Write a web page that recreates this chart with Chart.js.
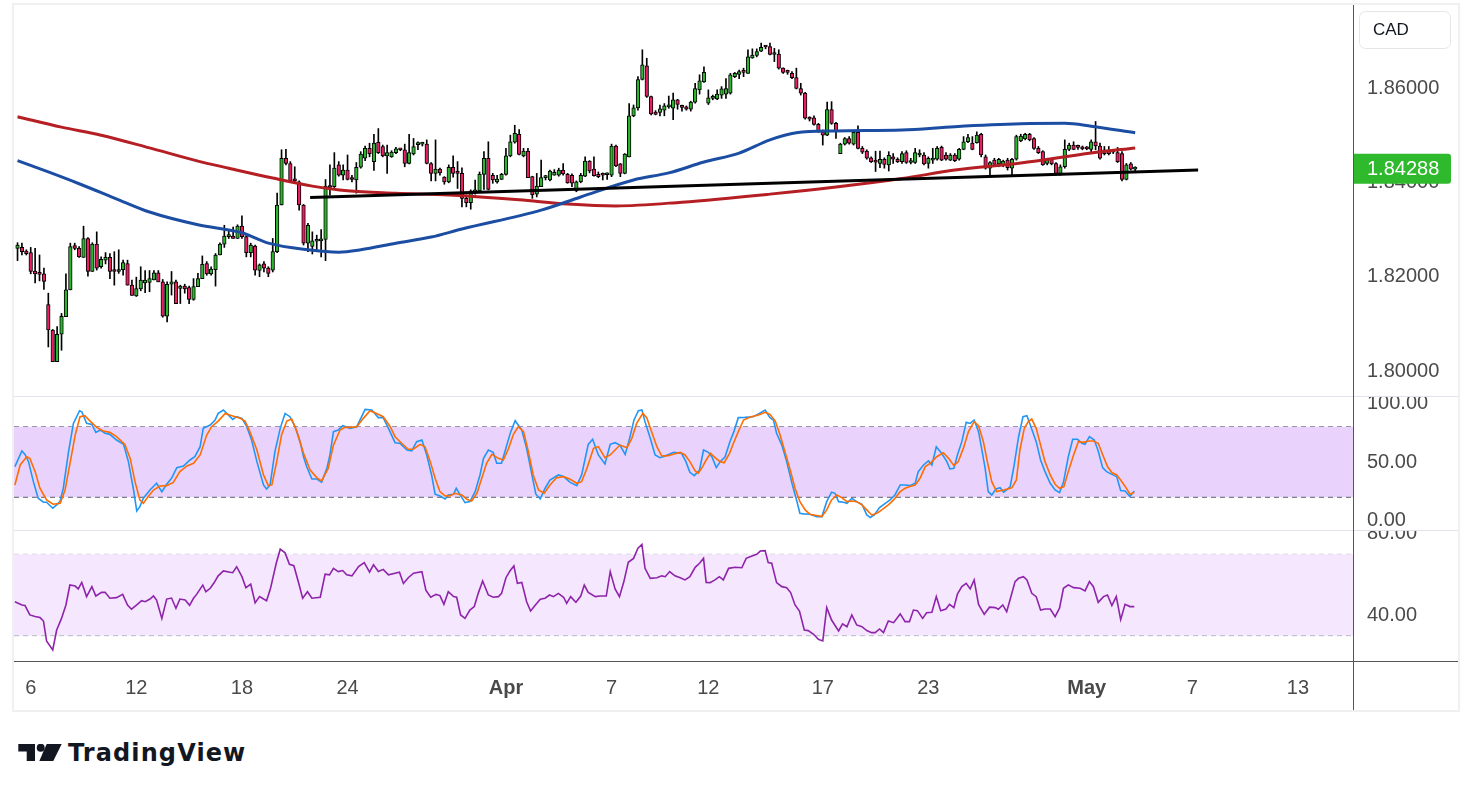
<!DOCTYPE html>
<html>
<head>
<meta charset="utf-8">
<title>GBP/CAD 4H</title>
<script src="https://cdn.jsdelivr.net/npm/chart.js@4.4.1/dist/chart.umd.min.js"></script>
<style>
  html, body { margin: 0; padding: 0; background: #fff; }
  body { width: 1473px; height: 800px; position: relative; overflow: hidden; }
  .frame { position: absolute; left: 12px; top: 3px; width: 1448px; height: 709px; border: 2px solid #f0f0f0; box-sizing: border-box; }
  canvas { position: absolute; left: 14px; }
  #price { top: 5px; }
  #stoch { top: 396px; }
  #rsi { top: 530px; }
  .rule { position: absolute; }
  .brand-icon { position: absolute; left: 17px; top: 744px; }
  .brand-text { position: absolute; left: 68px; top: 741px; font: 700 24px/24px "DejaVu Sans", sans-serif; letter-spacing: 1.1px; color: #131722; white-space: nowrap; }
</style>
</head>
<body>
<div class="frame"></div>
<canvas id="price" width="1444" height="391"></canvas>
<canvas id="stoch" width="1444" height="134"></canvas>
<canvas id="rsi" width="1444" height="180"></canvas>
<div class="rule" style="left:14px;top:396px;width:1444px;height:1px;background:#e0e3eb"></div>
<div class="rule" style="left:14px;top:530px;width:1444px;height:1px;background:#e0e3eb"></div>
<div class="rule" style="left:1353px;top:5px;width:1px;height:705px;background:#555"></div>
<div class="rule" style="left:14px;top:661px;width:1444px;height:1px;background:#555"></div>
<svg class="brand-icon" width="46" height="18" viewBox="0 0 46 18">
  <path d="M1.3 0H18V17H9.7V7.4H1.3Z" fill="#131722"/>
  <circle cx="23.7" cy="3.7" r="4" fill="#131722"/>
  <path d="M29.7 0H44.7L36.3 17H22.3Z" fill="#131722"/>
</svg>
<div class="brand-text">TradingView</div>
<script>
// 4h candles, index 0 = first bar on screen
const opens = [
  1.8260,1.8262,1.8254,1.8251,1.8212,1.8206,1.8206,1.8141,1.8087,1.8020,
  1.8078,1.8115,1.8172,1.8266,1.8260,1.8241,1.8281,1.8211,1.8269,1.8221,
  1.8235,1.8241,1.8212,1.8211,1.8215,1.8228,1.8182,1.8159,1.8174,1.8187,
  1.8188,1.8193,1.8208,1.8189,1.8116,1.8184,1.8189,1.8175,1.8180,1.8177,
  1.8152,1.8179,1.8196,1.8228,1.8206,1.8215,1.8246,1.8269,1.8285,1.8286,
  1.8281,1.8307,1.8285,1.8251,1.8265,1.8213,1.8227,1.8218,1.8214,1.8253,
  1.8352,1.8451,1.8440,1.8404,1.8401,1.8352,1.8271,1.8264,1.8275,1.8276,
  1.8279,1.8392,1.8391,1.8437,1.8415,1.8426,1.8407,1.8405,1.8432,1.8451,
  1.8472,1.8444,1.8485,1.8476,1.8456,1.8454,1.8463,1.8470,1.8469,1.8440,
  1.8460,1.8480,1.8481,1.8481,1.8440,1.8419,1.8428,1.8411,1.8401,1.8432,
  1.8420,1.8419,1.8366,1.8357,1.8377,1.8382,1.8417,1.8451,1.8415,1.8401,
  1.8406,1.8417,1.8456,1.8485,1.8502,1.8456,1.8466,1.8412,1.8375,1.8391,
  1.8410,1.8405,1.8415,1.8415,1.8426,1.8417,1.8415,1.8382,1.8401,1.8413,
  1.8445,1.8428,1.8417,1.8416,1.8416,1.8415,1.8477,1.8439,1.8419,1.8454,
  1.8541,1.8558,1.8618,1.8647,1.8582,1.8549,1.8548,1.8553,1.8560,1.8557,
  1.8575,1.8560,1.8560,1.8555,1.8570,1.8596,1.8613,1.8568,1.8578,1.8577,
  1.8585,1.8587,1.8589,1.8624,1.8629,1.8635,1.8631,1.8664,1.8669,1.8678,
  1.8688,1.8688,1.8671,1.8672,1.8642,1.8635,1.8631,1.8622,1.8599,1.8589,
  1.8536,1.8537,1.8523,1.8507,1.8500,1.8554,1.8525,1.8461,1.8481,1.8493,
  1.8481,1.8506,1.8472,1.8466,1.8452,1.8444,1.8440,1.8449,1.8437,1.8454,
  1.8449,1.8444,1.8463,1.8442,1.8442,1.8458,1.8458,1.8440,1.8447,1.8449,
  1.8474,1.8458,1.8447,1.8458,1.8449,1.8470,1.8486,1.8483,1.8484,1.8502,
  1.8454,1.8430,1.8447,1.8439,1.8437,1.8447,1.8430,1.8449,1.8488,1.8492,
  1.8502,1.8493,1.8472,1.8465,1.8440,1.8449,1.8440,1.8419,1.8433,1.8470,
  1.8479,1.8476,1.8472,1.8472,1.8470,1.8486,1.8477,1.8461,1.8467,1.8465,
  1.8463,1.8461,1.8406,1.8439,1.8428
];
const highs = [
  1.8272,1.8271,1.8257,1.8262,1.8260,1.8246,1.8218,1.8165,1.8088,1.8094,
  1.8122,1.8206,1.8271,1.8271,1.8264,1.8307,1.8283,1.8272,1.8295,1.8242,
  1.8251,1.8249,1.8253,1.8257,1.8235,1.8235,1.8193,1.8199,1.8221,1.8213,
  1.8213,1.8213,1.8213,1.8194,1.8189,1.8211,1.8193,1.8182,1.8184,1.8180,
  1.8196,1.8207,1.8244,1.8232,1.8221,1.8249,1.8272,1.8309,1.8298,1.8305,
  1.8310,1.8329,1.8288,1.8271,1.8267,1.8227,1.8232,1.8221,1.8281,1.8377,
  1.8469,1.8470,1.8444,1.8433,1.8403,1.8353,1.8313,1.8295,1.8288,1.8300,
  1.8406,1.8437,1.8463,1.8444,1.8437,1.8458,1.8415,1.8442,1.8465,1.8477,
  1.8483,1.8502,1.8514,1.8479,1.8479,1.8467,1.8474,1.8471,1.8481,1.8502,
  1.8493,1.8486,1.8485,1.8490,1.8442,1.8490,1.8430,1.8412,1.8437,1.8456,
  1.8444,1.8431,1.8373,1.8384,1.8405,1.8422,1.8465,1.8486,1.8419,1.8415,
  1.8419,1.8472,1.8500,1.8521,1.8512,1.8472,1.8472,1.8413,1.8419,1.8447,
  1.8415,1.8426,1.8427,1.8430,1.8440,1.8419,1.8418,1.8403,1.8419,1.8454,
  1.8446,1.8454,1.8422,1.8420,1.8420,1.8481,1.8479,1.8440,1.8461,1.8567,
  1.8564,1.8624,1.8681,1.8663,1.8583,1.8552,1.8564,1.8567,1.8583,1.8589,
  1.8576,1.8564,1.8562,1.8572,1.8610,1.8628,1.8645,1.8596,1.8585,1.8596,
  1.8603,1.8620,1.8631,1.8633,1.8638,1.8642,1.8681,1.8683,1.8683,1.8695,
  1.8690,1.8695,1.8684,1.8681,1.8643,1.8638,1.8635,1.8642,1.8610,1.8591,
  1.8539,1.8541,1.8525,1.8511,1.8570,1.8571,1.8527,1.8483,1.8495,1.8497,
  1.8509,1.8520,1.8476,1.8469,1.8454,1.8466,1.8466,1.8452,1.8465,1.8461,
  1.8452,1.8465,1.8467,1.8451,1.8472,1.8469,1.8463,1.8454,1.8472,1.8476,
  1.8477,1.8463,1.8461,1.8461,1.8472,1.8497,1.8502,1.8497,1.8507,1.8504,
  1.8458,1.8444,1.8451,1.8451,1.8447,1.8451,1.8451,1.8500,1.8502,1.8504,
  1.8504,1.8495,1.8476,1.8467,1.8451,1.8451,1.8442,1.8437,1.8490,1.8483,
  1.8486,1.8479,1.8477,1.8476,1.8490,1.8529,1.8483,1.8476,1.8476,1.8470,
  1.8474,1.8465,1.8440,1.8442,1.8433
];
const lows = [
  1.8234,1.8246,1.8246,1.8206,1.8187,1.8191,1.8173,1.8051,1.8020,1.8020,
  1.8044,1.8115,1.8172,1.8257,1.8241,1.8241,1.8201,1.8211,1.8214,1.8218,
  1.8227,1.8196,1.8182,1.8207,1.8203,1.8182,1.8160,1.8158,1.8170,1.8166,
  1.8168,1.8193,1.8189,1.8114,1.8104,1.8161,1.8143,1.8143,1.8165,1.8143,
  1.8150,1.8179,1.8196,1.8203,1.8203,1.8180,1.8246,1.8262,1.8281,1.8281,
  1.8281,1.8281,1.8242,1.8242,1.8203,1.8200,1.8210,1.8200,1.8210,1.8251,
  1.8352,1.8437,1.8401,1.8401,1.8341,1.8267,1.8253,1.8248,1.8256,1.8242,
  1.8234,1.8373,1.8389,1.8413,1.8405,1.8405,1.8401,1.8377,1.8430,1.8446,
  1.8454,1.8425,1.8461,1.8454,1.8419,1.8453,1.8461,1.8467,1.8433,1.8439,
  1.8458,1.8469,1.8477,1.8439,1.8403,1.8403,1.8415,1.8396,1.8399,1.8411,
  1.8387,1.8348,1.8348,1.8343,1.8375,1.8380,1.8385,1.8384,1.8398,1.8398,
  1.8406,1.8415,1.8454,1.8483,1.8458,1.8454,1.8410,1.8366,1.8369,1.8391,
  1.8405,1.8403,1.8415,1.8413,1.8415,1.8398,1.8391,1.8380,1.8399,1.8412,
  1.8420,1.8413,1.8410,1.8405,1.8406,1.8412,1.8433,1.8412,1.8418,1.8454,
  1.8539,1.8553,1.8617,1.8580,1.8543,1.8543,1.8541,1.8541,1.8557,1.8533,
  1.8555,1.8551,1.8553,1.8551,1.8568,1.8587,1.8612,1.8565,1.8575,1.8575,
  1.8578,1.8578,1.8587,1.8622,1.8620,1.8624,1.8631,1.8663,1.8666,1.8677,
  1.8683,1.8670,1.8656,1.8640,1.8631,1.8629,1.8620,1.8598,1.8585,1.8534,
  1.8530,1.8521,1.8506,1.8479,1.8499,1.8523,1.8493,1.8461,1.8479,1.8481,
  1.8479,1.8471,1.8461,1.8449,1.8442,1.8423,1.8431,1.8430,1.8424,1.8440,
  1.8442,1.8440,1.8440,1.8439,1.8440,1.8454,1.8437,1.8430,1.8440,1.8447,
  1.8446,1.8447,1.8446,1.8444,1.8447,1.8469,1.8484,1.8469,1.8483,1.8454,
  1.8428,1.8415,1.8437,1.8433,1.8433,1.8426,1.8415,1.8447,1.8486,1.8490,
  1.8488,1.8470,1.8461,1.8436,1.8437,1.8437,1.8415,1.8415,1.8430,1.8467,
  1.8469,1.8470,1.8469,1.8469,1.8465,1.8469,1.8449,1.8458,1.8458,1.8461,
  1.8442,1.8403,1.8405,1.8426,1.8423
];
const closes = [
  1.8267,1.8253,1.8249,1.8211,1.8206,1.8205,1.8190,1.8087,1.8020,1.8078,
  1.8116,1.8172,1.8264,1.8260,1.8242,1.8281,1.8211,1.8269,1.8218,1.8237,
  1.8241,1.8211,1.8211,1.8215,1.8230,1.8182,1.8160,1.8175,1.8193,1.8193,
  1.8196,1.8208,1.8189,1.8116,1.8184,1.8189,1.8143,1.8180,1.8174,1.8152,
  1.8179,1.8196,1.8226,1.8206,1.8216,1.8246,1.8269,1.8286,1.8286,1.8281,
  1.8307,1.8285,1.8251,1.8267,1.8214,1.8225,1.8218,1.8207,1.8253,1.8352,
  1.8451,1.8440,1.8403,1.8403,1.8352,1.8271,1.8309,1.8276,1.8276,1.8277,
  1.8392,1.8389,1.8430,1.8415,1.8426,1.8406,1.8406,1.8432,1.8460,1.8472,
  1.8461,1.8483,1.8463,1.8456,1.8463,1.8464,1.8471,1.8469,1.8440,1.8463,
  1.8476,1.8482,1.8482,1.8440,1.8419,1.8428,1.8420,1.8401,1.8432,1.8419,
  1.8419,1.8366,1.8357,1.8382,1.8384,1.8417,1.8451,1.8385,1.8405,1.8407,
  1.8417,1.8456,1.8486,1.8504,1.8459,1.8466,1.8410,1.8374,1.8392,1.8410,
  1.8411,1.8424,1.8421,1.8426,1.8418,1.8399,1.8398,1.8401,1.8415,1.8445,
  1.8424,1.8414,1.8412,1.8415,1.8417,1.8477,1.8435,1.8419,1.8460,1.8541,
  1.8558,1.8618,1.8649,1.8582,1.8545,1.8544,1.8556,1.8562,1.8561,1.8575,
  1.8565,1.8559,1.8555,1.8570,1.8599,1.8615,1.8633,1.8579,1.8582,1.8587,
  1.8598,1.8599,1.8628,1.8631,1.8635,1.8633,1.8666,1.8670,1.8677,1.8686,
  1.8687,1.8671,1.8672,1.8642,1.8633,1.8633,1.8622,1.8599,1.8589,1.8536,
  1.8534,1.8523,1.8507,1.8500,1.8554,1.8525,1.8509,1.8481,1.8493,1.8483,
  1.8506,1.8472,1.8464,1.8451,1.8444,1.8443,1.8449,1.8438,1.8457,1.8449,
  1.8444,1.8461,1.8442,1.8443,1.8463,1.8459,1.8439,1.8451,1.8449,1.8472,
  1.8447,1.8449,1.8458,1.8446,1.8470,1.8486,1.8495,1.8470,1.8500,1.8458,
  1.8430,1.8442,1.8438,1.8449,1.8445,1.8431,1.8449,1.8497,1.8498,1.8502,
  1.8490,1.8472,1.8463,1.8437,1.8449,1.8439,1.8419,1.8433,1.8470,1.8479,
  1.8470,1.8474,1.8471,1.8471,1.8486,1.8477,1.8451,1.8469,1.8461,1.8464,
  1.8444,1.8406,1.8437,1.8428,1.84288
];

// moving averages: [bar index, price]
const maBlue = [
  [0,1.8446],[7,1.8422],[14,1.8397],[23,1.8363],[30,1.8337],[41,1.8310],[51,1.8293],
  [57,1.8271],[66,1.8257],[73,1.8252],[78,1.8257],[86,1.8271],[94,1.8284],[101,1.8301],
  [119,1.8341],[128,1.8369],[140,1.8405],[148,1.8420],[156,1.8443],[164,1.8462],
  [171,1.8490],[177,1.8505],[186,1.8509],[201,1.8511],[213,1.8518],[228,1.8524],
  [238,1.8525],[244,1.8519],[254,1.8505]
];
const maRed = [
  [0,1.8539],[10,1.8517],[19,1.8500],[30,1.8473],[41,1.8445],[48,1.8430],[58,1.8409],
  [67,1.8392],[75,1.8382],[86,1.8377],[98,1.8373],[114,1.8363],[125,1.8354],[136,1.8350],
  [151,1.8358],[171,1.8375],[186,1.8390],[201,1.8408],[213,1.8426],[228,1.8441],
  [244,1.8462],[254,1.8473]
];
const trendLine = [[66.5,1.8368],[268.3,1.8426]];

// stochastic %K / %D and RSI: [bar index, value]
const stochK = [
  [-0.6,46.1],[1.0,59.4],[1.7,56.5],[2.5,50.3],[3.6,33.3],[4.7,19.2],[5.9,15.8],[6.6,15.8],[8.0,10.7],[8.9,13.5],
  [9.7,16.9],[10.4,27.7],[11.6,58.8],[12.7,82.8],[14.1,93.6],[14.6,92.7],[15.7,82.8],[16.9,82.0],[17.8,75.2],[18.8,77.2],
  [19.9,74.4],[21.0,73.5],[22.5,68.7],[24.1,65.0],[25.2,50.3],[26.3,27.7],[27.1,8.4],[27.8,12.1],[28.6,19.2],[30.1,26.2],
  [31.6,31.9],[32.8,24.8],[33.9,31.1],[35.0,36.2],[36.2,45.2],[37.7,46.6],[39.2,51.7],[40.3,54.5],[41.5,63.0],[42.2,78.6],
  [43.8,81.4],[44.9,85.7],[45.6,91.3],[46.8,94.2],[47.9,89.9],[48.9,86.2],[49.8,88.5],[51.0,87.1],[52.1,80.0],[53.2,68.7],
  [54.4,50.3],[55.9,30.5],[56.6,27.1],[57.4,30.5],[58.5,58.8],[59.7,78.6],[60.8,91.3],[61.9,88.5],[63.1,80.0],[64.2,67.3],
  [65.0,54.5],[65.7,46.1],[66.9,35.6],[68.0,35.6],[69.1,32.7],[70.3,44.6],[71.0,56.0],[71.8,75.8],[72.9,77.2],[73.9,80.9],
  [75.6,78.6],[77.1,80.0],[79.0,94.7],[80.5,94.2],[82.0,87.7],[83.1,87.7],[84.3,78.6],[85.8,66.4],[86.9,65.9],[88.5,60.2],
  [89.6,59.4],[90.7,67.3],[91.9,68.7],[93.0,56.0],[94.1,39.0],[94.9,22.6],[96.0,21.1],[97.2,18.6],[97.9,22.0],[99.1,22.6],
  [99.7,27.7],[100.6,22.0],[101.7,15.5],[102.8,16.3],[104.0,24.8],[105.1,39.0],[105.9,53.1],[107.0,60.2],[108.1,58.2],[108.9,48.9],
  [110.0,48.9],[111.2,64.4],[112.1,75.8],[113.1,85.1],[114.6,77.2],[115.7,61.6],[116.9,39.0],[117.8,22.6],[118.8,18.6],[119.9,27.7],
  [121.0,34.7],[122.9,39.0],[124.1,37.6],[125.6,32.7],[127.1,29.9],[128.2,39.0],[129.7,65.0],[130.7,69.3],[132.0,56.0],[133.5,48.3],
  [134.7,65.0],[135.8,66.4],[136.9,64.4],[138.1,56.5],[139.1,70.1],[140.1,85.7],[141.1,93.6],[141.9,94.2],[142.6,84.3],[143.8,70.1],
  [144.9,56.0],[146.0,53.7],[147.2,55.1],[149.1,58.2],[150.9,57.4],[151.9,50.3],[152.8,41.2],[153.8,38.4],[155.0,43.2],[155.9,60.2],
  [157.0,58.2],[157.8,54.5],[158.8,45.2],[159.7,50.3],[160.8,54.5],[161.9,67.3],[162.8,75.8],[163.8,87.7],[165.3,87.9],[167.2,88.5],
  [168.6,91.3],[169.9,94.2],[171.0,87.7],[171.8,85.7],[172.5,74.4],[173.7,64.4],[174.8,50.3],[176.0,31.9],[177.1,16.9],[177.8,6.4],
  [178.6,5.9],[180.1,5.6],[181.6,3.6],[182.8,3.6],[183.9,16.3],[185.0,24.3],[185.8,23.4],[186.6,16.3],[187.7,15.8],[188.5,14.9],
  [189.6,19.2],[190.7,16.3],[191.9,14.1],[193.0,5.0],[193.8,2.8],[194.7,5.0],[195.9,11.2],[197.2,14.9],[198.3,17.8],[199.4,22.0],
  [200.6,30.5],[201.7,30.5],[202.8,29.9],[204.0,31.9],[204.7,41.8],[205.9,47.5],[207.0,50.9],[207.8,47.5],[208.8,63.0],[210.0,57.4],
  [211.2,50.3],[211.9,44.1],[212.8,44.6],[213.6,56.0],[214.6,67.3],[215.6,83.7],[216.5,82.8],[217.4,85.7],[218.4,75.8],[219.1,61.6],
  [219.9,44.6],[220.6,24.8],[221.4,22.0],[222.4,27.1],[223.3,28.2],[224.1,24.3],[224.8,26.2],[225.6,29.1],[226.5,47.5],[227.5,71.5],
  [228.5,88.5],[229.4,89.4],[230.3,80.0],[231.5,67.3],[232.5,51.7],[233.5,41.8],[234.7,31.9],[235.8,26.2],[236.8,24.0],[237.7,32.7],
  [238.8,54.5],[239.8,69.3],[240.9,69.3],[241.9,65.9],[242.6,65.0],[243.6,71.5],[244.7,68.7],[245.6,59.4],[246.6,45.2],[247.5,41.8],
  [248.7,39.5],[249.8,37.6],[250.7,25.7],[251.7,25.4],[252.8,20.6],[253.8,25.4]
];
const stochD = [
  [-0.6,30.5],[0.6,47.5],[2.1,54.5],[2.8,53.1],[4.0,41.8],[5.1,27.7],[6.6,17.8],[8.1,14.1],[9.7,14.9],[10.8,26.2],
  [12.0,50.3],[13.1,72.9],[14.2,88.5],[15.3,89.4],[16.5,84.8],[18.0,79.4],[19.5,76.3],[21.0,75.2],[22.5,71.5],[24.4,65.0],
  [25.6,53.1],[26.7,33.3],[27.8,17.8],[28.6,14.9],[29.7,20.6],[30.9,26.2],[32.4,29.6],[33.9,29.9],[35.4,32.7],[36.9,41.8],
  [38.5,46.6],[40.0,48.9],[41.5,56.0],[43.0,72.9],[44.1,80.0],[45.6,84.8],[47.2,91.3],[48.7,89.4],[50.6,87.1],[51.7,84.8],
  [52.8,75.8],[54.4,60.2],[55.9,39.0],[57.0,29.9],[57.8,30.5],[58.9,50.3],[60.0,72.9],[61.2,84.8],[62.3,86.5],[63.5,75.8],
  [65.0,57.4],[66.5,43.2],[68.0,36.7],[69.1,33.9],[70.6,44.6],[71.8,64.4],[73.3,77.2],[74.4,79.4],[75.6,79.4],[77.1,80.0],
  [78.6,87.1],[80.1,93.6],[81.6,91.3],[83.1,88.5],[84.7,80.0],[85.8,71.5],[87.3,65.9],[88.8,60.8],[90.0,61.1],[91.5,65.0],
  [92.6,63.0],[93.8,50.3],[94.9,36.2],[96.0,24.8],[97.2,21.1],[98.3,21.4],[99.4,23.4],[101.0,22.0],[102.1,18.3],[103.2,16.9],
  [104.4,23.4],[105.5,36.2],[106.6,48.9],[107.8,56.5],[109.3,53.1],[110.4,51.7],[111.6,61.6],[112.7,73.5],[113.8,80.0],[115.0,75.8],
  [116.1,58.8],[117.2,39.0],[118.4,26.2],[119.7,23.4],[121.0,30.5],[122.5,36.7],[124.1,37.6],[125.6,35.3],[127.1,31.9],[128.2,33.3],
  [129.4,44.6],[130.9,61.6],[132.0,63.0],[133.5,53.7],[134.7,56.0],[135.8,60.2],[136.9,64.4],[138.5,62.2],[139.6,70.1],[140.7,82.8],
  [142.1,91.3],[143.0,87.7],[144.1,75.8],[145.3,63.0],[146.4,55.1],[147.9,55.4],[149.4,57.1],[150.6,58.2],[151.7,56.0],[152.8,50.3],
  [154.0,42.4],[154.7,40.4],[155.7,46.1],[156.5,51.7],[157.5,57.4],[158.5,53.7],[159.7,50.3],[160.6,49.4],[161.8,57.4],[162.7,65.9],
  [163.8,75.8],[165.0,85.7],[166.5,88.2],[168.4,89.9],[169.9,92.2],[171.0,90.5],[172.2,84.8],[173.3,72.9],[174.4,58.8],[175.6,43.2],
  [176.7,27.7],[177.8,16.3],[179.0,9.3],[180.1,5.6],[181.6,4.5],[182.8,3.6],[183.9,9.3],[185.0,17.8],[186.2,22.0],[187.3,19.7],
  [188.5,16.3],[189.6,16.9],[190.7,16.3],[191.9,13.5],[193.0,9.3],[194.1,5.0],[195.3,6.4],[196.4,9.3],[197.9,13.5],[199.1,17.8],
  [200.6,24.8],[201.7,27.7],[202.8,29.1],[204.0,30.5],[205.1,36.2],[206.3,46.1],[207.4,48.9],[208.9,54.5],[210.4,57.9],[211.6,53.1],
  [212.8,46.9],[213.8,50.3],[215.0,62.2],[216.1,75.8],[217.4,84.3],[218.4,80.9],[219.5,67.3],[220.4,50.3],[221.4,33.3],[222.5,24.8],
  [224.1,26.2],[225.6,27.7],[226.0,28.2],[227.0,34.7],[227.8,60.2],[228.8,78.6],[229.7,84.3],[230.5,86.5],[231.5,78.6],[232.5,64.4],
  [233.5,50.3],[234.7,39.0],[235.8,31.1],[236.8,27.7],[237.8,29.1],[238.8,41.8],[240.0,56.0],[241.1,67.3],[242.2,66.7],[243.4,67.8],
  [244.5,67.8],[245.6,65.9],[246.8,54.5],[247.7,46.1],[248.7,41.0],[249.8,39.0],[250.7,34.7],[251.9,28.2],[252.8,22.6],[253.8,24.3]
];
const rsi = [
  [-0.6,46.7],[1.0,45.1],[1.7,44.8],[2.8,40.2],[4.0,39.4],[5.1,38.9],[5.9,37.2],[6.6,27.4],[8.0,23.0],[8.9,32.8],
  [10.0,38.5],[11.0,45.1],[11.9,54.9],[13.1,54.4],[13.8,53.0],[14.6,56.2],[15.7,49.2],[16.9,54.1],[17.8,49.5],[19.1,51.3],
  [19.9,51.3],[21.0,48.4],[22.5,48.7],[23.9,50.3],[25.0,45.1],[25.9,43.0],[27.1,45.1],[28.2,47.2],[29.0,46.7],[30.1,48.0],
  [30.9,49.5],[31.6,47.5],[32.8,38.5],[33.9,48.0],[35.0,48.5],[36.0,43.5],[36.9,48.0],[38.1,47.5],[39.1,44.9],[40.0,48.4],
  [40.7,50.3],[42.1,54.9],[42.8,51.6],[43.8,53.3],[44.7,56.1],[45.6,59.4],[46.8,61.8],[48.3,61.2],[48.9,61.0],[49.8,63.9],
  [51.0,59.0],[51.9,53.6],[53.0,55.3],[54.0,46.1],[55.0,49.2],[56.6,47.2],[57.5,53.3],[58.8,65.6],[59.7,72.5],[60.8,70.7],
  [61.8,65.1],[62.8,64.4],[63.8,56.6],[64.8,48.4],[65.9,51.6],[66.9,48.4],[68.8,48.9],[69.9,60.2],[70.9,59.9],[71.8,63.1],
  [72.9,61.5],[73.9,62.0],[74.8,59.9],[76.0,59.4],[77.5,64.0],[78.8,65.9],[80.0,61.2],[80.9,64.8],[82.0,61.5],[83.1,62.6],
  [84.3,59.9],[85.8,60.7],[86.8,61.2],[87.7,55.7],[88.8,58.5],[90.0,60.7],[91.9,61.5],[92.8,52.4],[93.9,48.9],[95.1,50.3],
  [96.0,49.7],[96.9,45.4],[97.9,51.6],[99.1,49.2],[99.8,48.9],[100.7,40.2],[101.7,38.5],[102.8,42.6],[103.8,44.3],[104.7,50.8],
  [105.7,56.9],[107.0,50.0],[108.1,48.9],[109.3,49.2],[110.0,50.8],[111.0,58.5],[111.9,61.8],[112.8,64.3],[113.6,55.7],[114.6,56.2],
  [115.7,46.7],[116.6,42.1],[117.6,44.8],[118.8,47.9],[119.9,48.4],[120.9,50.0],[121.8,49.2],[122.9,50.8],[124.1,48.9],[124.8,45.9],
  [125.7,49.2],[126.9,46.4],[128.0,49.5],[128.8,54.9],[129.7,51.3],[131.3,49.2],[132.4,49.5],[133.8,49.5],[134.7,61.5],[135.8,53.0],
  [136.8,49.2],[137.8,56.6],[138.8,66.1],[140.0,68.0],[141.0,73.0],[141.9,74.9],[142.6,63.1],[143.8,58.2],[145.3,58.5],[146.4,59.4],
  [147.2,59.0],[148.2,61.5],[149.4,59.4],[150.6,58.5],[151.7,57.4],[152.8,59.0],[154.0,63.6],[155.0,65.6],[155.9,68.0],[156.5,56.2],
  [157.4,56.1],[158.5,57.4],[159.5,59.0],[160.4,57.4],[161.6,63.1],[163.1,63.6],[164.6,63.4],[165.6,68.0],[166.9,69.2],[168.0,70.0],
  [168.8,71.6],[169.9,71.8],[170.6,65.9],[171.4,65.6],[172.5,56.1],[173.7,54.1],[174.8,53.6],[175.7,51.2],[176.7,45.1],[177.7,42.1],
  [178.8,32.8],[179.7,32.5],[180.9,30.7],[182.0,28.2],[183.0,27.4],[183.9,43.8],[185.0,37.7],[186.6,32.3],[187.5,35.8],[188.5,34.4],
  [189.6,40.2],[190.7,35.3],[191.9,34.4],[193.0,32.5],[194.1,31.5],[194.9,31.5],[195.9,33.3],[196.8,31.5],[197.9,37.2],[199.1,36.4],
  [200.6,40.7],[201.7,36.9],[202.7,36.9],[203.6,42.6],[204.5,42.3],[205.7,38.5],[206.6,41.3],[207.8,41.5],[208.8,49.2],[209.8,42.3],
  [211.0,43.1],[211.8,45.4],[212.8,43.8],[213.6,50.5],[214.6,54.1],[215.6,55.7],[216.5,53.0],[217.4,57.4],[218.4,45.4],[219.7,40.5],
  [220.9,44.0],[222.2,43.8],[222.9,43.0],[223.9,45.1],[224.8,41.8],[225.4,46.4],[226.7,56.6],[227.5,58.2],[228.6,59.0],[229.4,57.4],
  [230.5,50.8],[231.5,49.2],[232.5,42.6],[233.5,43.1],[234.7,43.1],[235.8,39.4],[236.8,43.5],[237.7,53.3],[238.8,55.0],[240.0,53.6],
  [241.5,53.3],[242.6,52.0],[243.6,56.6],[244.5,54.1],[245.6,46.4],[246.8,49.2],[247.7,50.0],[248.7,44.8],[249.7,49.2],[250.7,37.9],
  [251.7,45.4],[252.8,44.3],[253.8,44.3]
];

// time axis labels at bar positions (bars past 254 are future slots)
const tickIdx = [3, 27, 51, 75, 111, 135, 157, 183, 207, 243, 267, 291];
const tickText = ['6', '12', '18', '24', 'Apr', '7', '12', '17', '23', 'May', '7', '13'];

const stochBands = [80, 20];
const rsiBands = [70, 30];

// ---- layout / style ----
const X_MIN = -0.8, X_MAX = 303.5;
const AXIS_W = 105;
const FONT = '"Liberation Sans", Arial, sans-serif';
const TXT = '#4a4a4a';
const UP = '#2db52d', DOWN = '#e91e63';

const pts = arr => arr.map(([x, y]) => ({x, y}));
const flat = v => [{x: X_MIN, y: v}, {x: X_MAX, y: v}];

function rightAxis(min, max, step, digits) {
  return {
    type: 'linear', position: 'right', min, max,
    grid: {display: false, drawTicks: false},
    border: {display: false},
    ticks: {
      stepSize: step, includeBounds: false, padding: 14, color: TXT,
      font: {family: FONT, size: 20},
      callback: v => v.toFixed(digits)
    },
    afterFit(s) { s.width = AXIS_W; s.paddingTop = 0; s.paddingBottom = 0; }
  };
}
const hiddenX = {type: 'linear', min: X_MIN, max: X_MAX, offset: false, display: false};

const base = {
  responsive: false, animation: false, events: [],
  layout: {padding: 0},
  plugins: {legend: {display: false}, tooltip: {enabled: false}}
};

const priceTag = {
  id: 'priceTag',
  afterDraw(chart) {
    const {ctx, chartArea, scales} = chart;
    const last = closes[closes.length - 1];
    const py = scales.y.getPixelForValue(last);
    const x0 = chartArea.right;
    ctx.save();
    ctx.fillStyle = '#2fb92c';
    ctx.beginPath();
    ctx.roundRect(x0, py - 15, 98, 30, [0, 3, 3, 0]);
    ctx.fill();
    ctx.fillStyle = '#ffffff';
    ctx.font = '20px ' + FONT;
    ctx.textAlign = 'left';
    ctx.textBaseline = 'middle';
    ctx.fillText(last.toFixed(5), x0 + 14, py + 1);
    // currency box
    ctx.fillStyle = '#ffffff';
    ctx.strokeStyle = '#e6e6e6';
    ctx.lineWidth = 1;
    ctx.beginPath();
    ctx.roundRect(x0 + 6.5, 6.5, 91, 37, 6);
    ctx.fill();
    ctx.stroke();
    ctx.fillStyle = '#131722';
    ctx.font = '17px ' + FONT;
    ctx.fillText('CAD', x0 + 20, 25);
    ctx.restore();
  }
};

new Chart(document.getElementById('price'), {
  type: 'bar',
  data: {
    datasets: [
      {type: 'line', data: pts(trendLine), borderColor: '#000', borderWidth: 3, pointRadius: 0, order: 0},
      {type: 'line', data: pts(maBlue), borderColor: '#1b4ea3', borderWidth: 3, pointRadius: 0,
        cubicInterpolationMode: 'monotone', order: 1},
      {type: 'line', data: pts(maRed), borderColor: '#b51f24', borderWidth: 3, pointRadius: 0,
        cubicInterpolationMode: 'monotone', order: 1},
      {type: 'bar', data: opens.map((o, i) => ({x: i, y: [o, closes[i]]})),
        backgroundColor: opens.map((o, i) => closes[i] >= o ? UP : DOWN),
        borderColor: '#000', borderWidth: 1, borderSkipped: false,
        barThickness: 3.6, minBarLength: 2, grouped: false, order: 2},
      {type: 'bar', data: lows.map((l, i) => ({x: i, y: [l, highs[i]]})),
        backgroundColor: '#000', barThickness: 1, grouped: false, order: 3}
    ]
  },
  options: {...base, scales: {x: hiddenX, y: rightAxis(1.7947, 1.877597, 0.02, 5)}},
  plugins: [priceTag]
});

new Chart(document.getElementById('stoch'), {
  type: 'line',
  data: {
    datasets: [
      {data: flat(stochBands[0]), borderColor: '#5d606b', borderWidth: 1, borderDash: [5, 4], pointRadius: 0, order: 5},
      {data: flat(stochBands[1]), borderColor: '#5d606b', borderWidth: 1, borderDash: [5, 4], pointRadius: 0,
        fill: '-1', backgroundColor: '#e9d3fc', order: 4},
      {data: pts(stochK), borderColor: '#2196f3', borderWidth: 1.6, pointRadius: 0, order: 1},
      {data: pts(stochD), borderColor: '#ff6d00', borderWidth: 1.6, pointRadius: 0, order: 0}
    ]
  },
  options: {...base, scales: {x: hiddenX, y: rightAxis(-7.8, 106.1, 50, 2)}}
});

new Chart(document.getElementById('rsi'), {
  type: 'line',
  data: {
    datasets: [
      {data: flat(rsiBands[0]), borderColor: '#b8bbc3', borderWidth: 1, borderDash: [5, 4], pointRadius: 0, order: 5},
      {data: flat(rsiBands[1]), borderColor: '#b8bbc3', borderWidth: 1, borderDash: [5, 4], pointRadius: 0,
        fill: '-1', backgroundColor: '#f5e7fd', order: 4},
      {data: pts(rsi), borderColor: '#8e24aa', borderWidth: 1.6, pointRadius: 0, order: 0}
    ]
  },
  options: {
    ...base,
    scales: {
      x: {
        type: 'linear', min: X_MIN, max: X_MAX, offset: false,
        grid: {display: false, drawTicks: false},
        border: {display: false},
        afterBuildTicks(s) { s.ticks = tickIdx.map(v => ({value: v})); },
        ticks: {
          autoSkip: false, maxRotation: 0, minRotation: 0, padding: 15, color: TXT,
          font: c => ({family: FONT, size: 20, weight: (tickText[c.index] || '').length > 2 ? 'bold' : 'normal'}),
          callback: (v, i) => tickText[i]
        },
        afterFit(s) { s.height = 49; s.paddingLeft = 0; s.paddingRight = 0; }
      },
      y: rightAxis(17.56, 81.94, 40, 2)
    }
  }
});
</script>
</body>
</html>
